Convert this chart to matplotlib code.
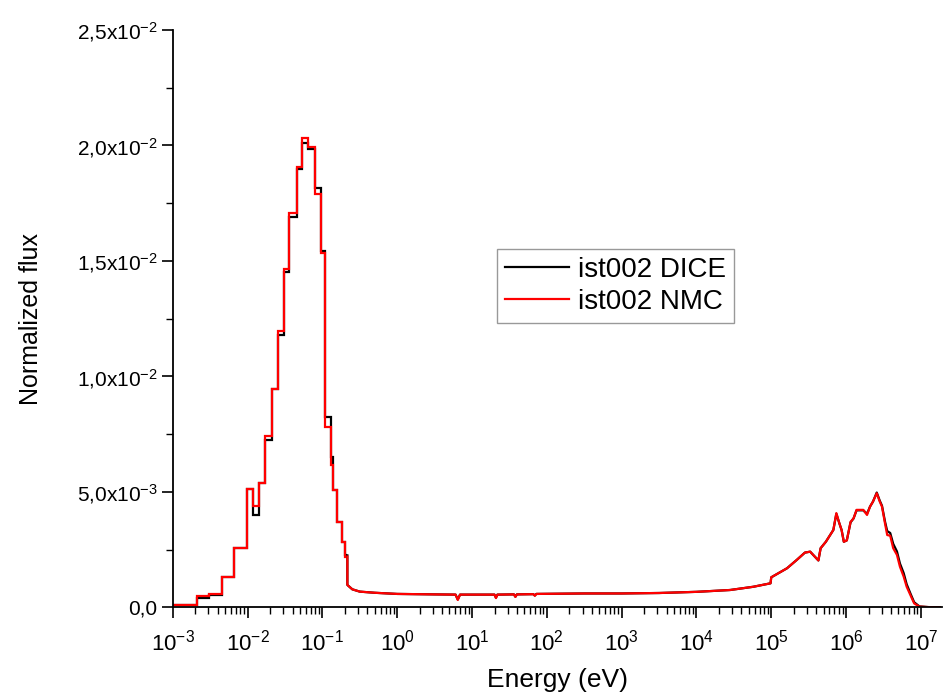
import numpy as np
import matplotlib
matplotlib.use('Agg')
import matplotlib.pyplot as plt
from matplotlib.ticker import LogLocator, MultipleLocator

plt.rcParams['font.family'] = ['Liberation Sans', 'DejaVu Sans']
plt.rcParams['mathtext.fontset'] = 'custom'
plt.rcParams['mathtext.rm'] = 'Liberation Sans'
plt.rcParams['mathtext.it'] = 'Liberation Sans:italic'
plt.rcParams['mathtext.bf'] = 'Liberation Sans:bold'

# thermal groups: bin edges in log10(E / eV) and group flux
group_edges_log10 = [-3.0, -2.68, -2.51, -2.341, -2.18, -2.011, -1.93, -1.842, -1.762,
                     -1.672, -1.588, -1.512, -1.441, -1.342, -1.267, -1.187, -1.098,
                     -1.017, -0.964, -0.888, -0.853, -0.800, -0.741, -0.697, -0.666]
group_nmc = [0.00010, 0.00049, 0.00058, 0.00133, 0.00256, 0.00512, 0.00439, 0.00540,
             0.00743, 0.00945, 0.01195, 0.01463, 0.01706, 0.01907, 0.02033, 0.01993,
             0.01790, 0.01535, 0.00780, 0.00617, 0.00506, 0.00371, 0.00285, 0.00220]
group_dice = [0.00010, 0.00040, 0.00054, 0.00133, 0.00256, 0.00512, 0.00400, 0.00540,
              0.00725, 0.00945, 0.01180, 0.01450, 0.01690, 0.01900, 0.02010, 0.01985,
              0.01815, 0.01545, 0.00824, 0.00650, 0.00510, 0.00371, 0.00285, 0.00225]

# epithermal + fast range, pointwise
fast_log10_e = [-0.666, -0.666, -0.60, -0.50, -0.30, 0.0, 0.50, 0.78, 0.81, 0.84, 1.0,
                1.30, 1.32, 1.34, 1.56, 1.58, 1.60, 1.82, 1.84, 1.86, 2.5, 3.0, 3.5,
                4.0, 4.45, 4.76, 4.99, 5.0, 5.21, 5.34, 5.45, 5.52, 5.63, 5.66, 5.73,
                5.83, 5.87, 5.91, 5.94, 5.97, 6.01, 6.06, 6.10, 6.14, 6.23, 6.28, 6.32,
                6.36, 6.41, 6.45, 6.48, 6.52, 6.55, 6.59, 6.63, 6.68, 6.72, 6.77, 6.81,
                6.86, 6.91, 6.98, 7.10, 7.25]
fast_nmc = [0.00220, 0.00097, 0.00078, 0.00068, 0.00063, 0.00058, 0.00056, 0.00055,
            0.00032, 0.00055, 0.00055, 0.00055, 0.00040, 0.00055, 0.00056, 0.00045,
            0.00056, 0.00057, 0.00050, 0.00058, 0.00060, 0.00060, 0.00062, 0.00067,
            0.00075, 0.00089, 0.00104, 0.00130, 0.00169, 0.00205, 0.00237, 0.00241,
            0.00203, 0.00256, 0.00284, 0.00335, 0.00408, 0.00364, 0.00335, 0.00284,
            0.00290, 0.00370, 0.00385, 0.00422, 0.00422, 0.00400, 0.00436, 0.00458,
            0.00494, 0.00458, 0.00436, 0.00364, 0.00313, 0.00310, 0.00256, 0.00227,
            0.00176, 0.00133, 0.00089, 0.00053, 0.00017, 0.00003, 0.00001, 0.0]
fast_dice = [0.00225, 0.00097, 0.00078, 0.00068, 0.00063, 0.00058, 0.00056, 0.00055,
             0.00034, 0.00055, 0.00055, 0.00055, 0.00042, 0.00055, 0.00056, 0.00046,
             0.00056, 0.00057, 0.00051, 0.00058, 0.00060, 0.00060, 0.00062, 0.00067,
             0.00075, 0.00089, 0.00104, 0.00130, 0.00169, 0.00205, 0.00237, 0.00241,
             0.00203, 0.00256, 0.00284, 0.00335, 0.00405, 0.00364, 0.00335, 0.00284,
             0.00290, 0.00368, 0.00385, 0.00420, 0.00420, 0.00405, 0.00436, 0.00458,
             0.00497, 0.00462, 0.00440, 0.00372, 0.00330, 0.00322, 0.00275, 0.00242,
             0.00190, 0.00148, 0.00100, 0.00060, 0.00022, 0.00004, 0.00001, 0.0]

y_ticks = [0.0, 0.005, 0.010, 0.015, 0.020, 0.025]
y_tick_labels = ['0,0', r'5,0x10$^{-3}$', r'1,0x10$^{-2}$', r'1,5x10$^{-2}$',
                 r'2,0x10$^{-2}$', r'2,5x10$^{-2}$']
x_decades = list(range(-3, 8))

edges = 10.0 ** np.array(group_edges_log10)
fast_e = 10.0 ** np.array(fast_log10_e)

fig = plt.figure(figsize=(9.46, 7.0), dpi=100)
ax = fig.add_axes([0.1826, 0.1324, 0.8129, 0.8247])

ax.stairs(group_dice, edges, baseline=None, color='black', linewidth=1.6)
ax.plot(fast_e, fast_dice, color='black', linewidth=1.6, label='ist002 DICE')
ax.stairs(group_nmc, edges, baseline=None, color='#FF0000', linewidth=1.6)
ax.plot(fast_e, fast_nmc, color='#FF0000', linewidth=1.6, label='ist002 NMC')

ax.set_xscale('log')
ax.set_xlim(1e-3, 1.9e7)
ax.set_ylim(0, 0.025)

ax.set_xticks([10.0 ** d for d in x_decades],
              [r'10$^{%d}$' % d for d in x_decades])
ax.xaxis.set_minor_locator(LogLocator(base=10, subs=np.arange(2, 10), numticks=30))
ax.set_yticks(y_ticks, y_tick_labels)
ax.yaxis.set_minor_locator(MultipleLocator(0.0025))

ax.tick_params(which='major', direction='out', length=8, width=1.2, labelsize=15, pad=3)
ax.tick_params(which='minor', direction='out', length=5, width=1.0)
ax.tick_params(axis='x', which='major', labelsize=16, pad=8)

ax.spines[['top', 'right']].set_visible(False)
ax.spines['left'].set_linewidth(1.3)
ax.spines['bottom'].set_linewidth(1.3)

ax.set_xlabel('Energy (eV)', fontsize=19, labelpad=9)
ax.set_ylabel('Normalized flux', fontsize=18, labelpad=24)

leg = ax.legend(loc='upper left', bbox_to_anchor=(0.4217, 0.621), fontsize=20,
                frameon=True, fancybox=False, borderaxespad=0, borderpad=0.3,
                handlelength=2.3, handletextpad=0.3, labelspacing=0.2)
leg.get_frame().set_edgecolor('#808080')
leg.get_frame().set_linewidth(1.0)

fig.savefig('out.png', dpi=100)
